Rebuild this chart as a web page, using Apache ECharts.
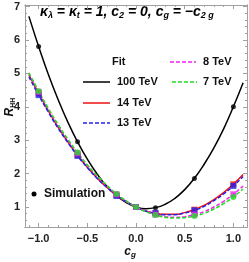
<!DOCTYPE html>
<html><head><meta charset="utf-8">
<script src="https://cdn.jsdelivr.net/npm/echarts@6/dist/echarts.min.js"></script>
<style>html,body{margin:0;padding:0;background:#fff}#c{width:249px;height:262px}</style>
</head><body><div id="c"></div>
<script>
// Fit curve sample positions (c_g)
const cgCurve = [-1.1,-1.0,-0.9,-0.8,-0.7,-0.6,-0.5,-0.4,-0.3,-0.2,-0.1,0,0.1,0.2,0.3,0.4,0.5,0.6,0.7,0.8,0.9,1.0,1.1];
const fit100 = [6.71,5.81,4.97,4.22,3.54,2.95,2.43,1.99,1.62,1.34,1.13,1.00,0.95,0.98,1.08,1.26,1.52,1.86,2.28,2.77,3.34,4.00,4.72];
const fit14  = [4.96,4.40,3.88,3.39,2.95,2.55,2.19,1.87,1.59,1.35,1.16,1.00,0.88,0.81,0.78,0.78,0.83,0.92,1.05,1.22,1.43,1.68,1.97];
const fit13  = [4.90,4.35,3.84,3.36,2.93,2.53,2.18,1.86,1.59,1.35,1.16,1.00,0.88,0.81,0.77,0.77,0.82,0.90,1.02,1.19,1.39,1.63,1.91];
const fit8   = [5.01,4.45,3.93,3.45,3.01,2.61,2.25,1.92,1.63,1.38,1.17,1.00,0.87,0.77,0.71,0.69,0.71,0.77,0.86,1.00,1.17,1.38,1.63];
const fit7   = [5.02,4.47,3.95,3.47,3.03,2.63,2.26,1.94,1.65,1.39,1.18,1.00,0.86,0.76,0.69,0.67,0.68,0.73,0.81,0.94,1.10,1.30,1.54];
// Simulation points
const cgSim = [-1.0,-0.6,-0.2,0,0.2,0.6,1.0];
const sim100 = [5.81,2.95,1.34,1.00,0.98,1.85,4.00];
const sim14  = [4.40,2.55,1.35,1.00,0.81,0.92,1.68];
const sim13  = [4.35,2.53,1.33,1.00,0.82,0.90,1.63];
const sim8   = [4.45,2.61,1.38,1.00,0.77,0.77,1.38];
const sim7   = [4.47,2.63,1.39,1.00,0.76,0.73,1.30];
// Ticks
const xMajor = [-1.0,-0.5,0,0.5,1.0];
const xMinor = [-1.1,-0.9,-0.8,-0.7,-0.6,-0.4,-0.3,-0.2,-0.1,0.1,0.2,0.3,0.4,0.6,0.7,0.8,0.9,1.1];
const yMajor = [1,2,3,4,5,6,7];
const yMinor = [0.4,0.6,0.8,1.2,1.4,1.6,1.8,2.2,2.4,2.6,2.8,3.2,3.4,3.6,3.8,4.2,4.4,4.6,4.8,5.2,5.4,5.6,5.8,6.2,6.4,6.6,6.8];

const zip = (xs, ys) => xs.map((x, i) => [x, ys[i]]);
const FONT = 'Liberation Sans';
const frameColor = '#a0a0a0';
const XMIN = -1.14, XMAX = 1.14, YMIN = 0.4, YMAX = 7.05;

function xAx(pos, vals, len, labels) {
  return {type:'value', position:pos, min:XMIN, max:XMAX, splitLine:{show:false},
    axisLine:{show:true, onZero:false, lineStyle:{color:frameColor, width:1}},
    axisTick:{show:true, inside:true, length:len, customValues:vals, lineStyle:{color:frameColor}},
    axisLabel:{show:labels, customValues:vals, margin:6, fontFamily:FONT, fontWeight:'bold', fontSize:11, color:'#222',
      formatter: v => v.toFixed(1).replace('-', '\u2212')}};
}
function yAx(pos, vals, len, labels) {
  return {type:'value', position:pos, min:YMIN, max:YMAX, splitLine:{show:false},
    axisLine:{show:true, onZero:false, lineStyle:{color:frameColor, width:1}},
    axisTick:{show:true, inside:true, length:len, customValues:vals, lineStyle:{color:frameColor}},
    axisLabel:{show:labels, customValues:vals, margin:5, fontFamily:FONT, fontWeight:'bold', fontSize:11, color:'#222',
      formatter: v => String(Math.round(v))}};
}

function curve(data, color, dashed, z) {
  return {type:'line', xAxisIndex:0, yAxisIndex:0, data:zip(cgCurve, data), smooth:true, showSymbol:false, z:z,
    lineStyle:{color:color, width:1.5, type: dashed ? [4,2] : 'solid'}, animation:false};
}
function pts(data, color, sym, size, z) {
  return {type:'scatter', xAxisIndex:0, yAxisIndex:0, data:zip(cgSim, data), symbol:sym, symbolSize:size, z:z,
    itemStyle:{color:color}, animation:false};
}

const chart = echarts.init(document.getElementById('c'), null, {renderer:'canvas'});
chart.setOption({
  animation:false,
  grid:{left:25, right:2, top:5, bottom:35, containLabel:false},
  xAxis:[xAx('bottom', xMajor, 4, true), xAx('bottom', xMinor, 2, false), xAx('top', xMajor, 4, false), xAx('top', xMinor, 2, false)],
  yAxis:[yAx('left', yMajor, 4, true), yAx('left', yMinor, 2, false), yAx('right', yMajor, 4, false), yAx('right', yMinor, 2, false)],
  series:[
    curve(fit100, '#000000', false, 2),
    curve(fit14, '#ee1111', false, 3),
    curve(fit13, '#2222ee', true, 4),
    curve(fit8, '#ee22ee', true, 5),
    curve(fit7, '#22dd22', true, 6),
    pts(sim100, '#000000', 'circle', 5, 10),
    pts(sim14, '#ee1111', 'rect', 6, 10),
    pts(sim13, '#2222ee', 'rect', 6, 11),
    pts(sim8, '#ee22ee', 'rect', 6, 12),
    pts(sim7, '#22dd22', 'circle', 6, 13)
  ],
  graphic:[
    {type:'text', left:40, top:5, style:{
      text:'{m|κ}{s|λ}{m| = κ}{s|t}{m| = 1, c}{s|2}{m| = 0, c}{s|g}{m| = −c}{s|2 g}',
      rich:{m:{fontFamily:FONT, fontWeight:'bold', fontStyle:'italic', fontSize:14, fill:'#000'},
            s:{fontFamily:FONT, fontWeight:'bold', fontStyle:'italic', fontSize:9, fill:'#000', padding:[7,0,0,0]}}}},
    {type:'text', x:112, y:62, style:{text:'Fit', fontFamily:FONT, fontWeight:'bold', fontSize:11, fill:'#111', verticalAlign:'middle'}},
    {type:'line', shape:{x1:83, y1:82, x2:110, y2:82}, style:{stroke:'#000', lineWidth:1.5}},
    {type:'text', x:117, y:82, style:{text:'100 TeV', fontFamily:FONT, fontWeight:'bold', fontSize:11, fill:'#111', verticalAlign:'middle'}},
    {type:'line', shape:{x1:83, y1:103, x2:110, y2:103}, style:{stroke:'#ee1111', lineWidth:1.5}},
    {type:'text', x:117, y:103, style:{text:'14 TeV', fontFamily:FONT, fontWeight:'bold', fontSize:11, fill:'#111', verticalAlign:'middle'}},
    {type:'line', shape:{x1:83, y1:123, x2:110, y2:123}, style:{stroke:'#2222ee', lineWidth:1.5, lineDash:[4,2]}},
    {type:'text', x:117, y:123, style:{text:'13 TeV', fontFamily:FONT, fontWeight:'bold', fontSize:11, fill:'#111', verticalAlign:'middle'}},
    {type:'line', shape:{x1:170, y1:62, x2:196, y2:62}, style:{stroke:'#ee22ee', lineWidth:1.5, lineDash:[4,2]}},
    {type:'text', x:203, y:62, style:{text:'8 TeV', fontFamily:FONT, fontWeight:'bold', fontSize:11, fill:'#111', verticalAlign:'middle'}},
    {type:'line', shape:{x1:172, y1:82, x2:197, y2:82}, style:{stroke:'#22dd22', lineWidth:1.5, lineDash:[4,2]}},
    {type:'text', x:203, y:82, style:{text:'7 TeV', fontFamily:FONT, fontWeight:'bold', fontSize:11, fill:'#111', verticalAlign:'middle'}},
    {type:'circle', shape:{cx:34, cy:194, r:2.5}, style:{fill:'#000'}},
    {type:'text', x:44, y:194, style:{text:'Simulation', fontFamily:FONT, fontWeight:'bold', fontSize:12, fill:'#111', verticalAlign:'middle'}},
    {type:'text', x:10, y:107, rotation:Math.PI/2, style:{
      text:'{r|R}{s|HH}', align:'center', verticalAlign:'middle',
      rich:{r:{fontFamily:FONT, fontWeight:'bold', fontStyle:'italic', fontSize:12, fill:'#111'},
            s:{fontFamily:FONT, fontWeight:'bold', fontSize:7, fill:'#111', padding:[6,0,0,0]}}}},
    {type:'text', x:130, y:252, style:{
      text:'{r|c}{s|g}', align:'center', verticalAlign:'middle',
      rich:{r:{fontFamily:FONT, fontWeight:'bold', fontStyle:'italic', fontSize:12, fill:'#111'},
            s:{fontFamily:FONT, fontWeight:'bold', fontStyle:'italic', fontSize:8, fill:'#111', padding:[6,0,0,0]}}}}
  ]
});
</script></body></html>
